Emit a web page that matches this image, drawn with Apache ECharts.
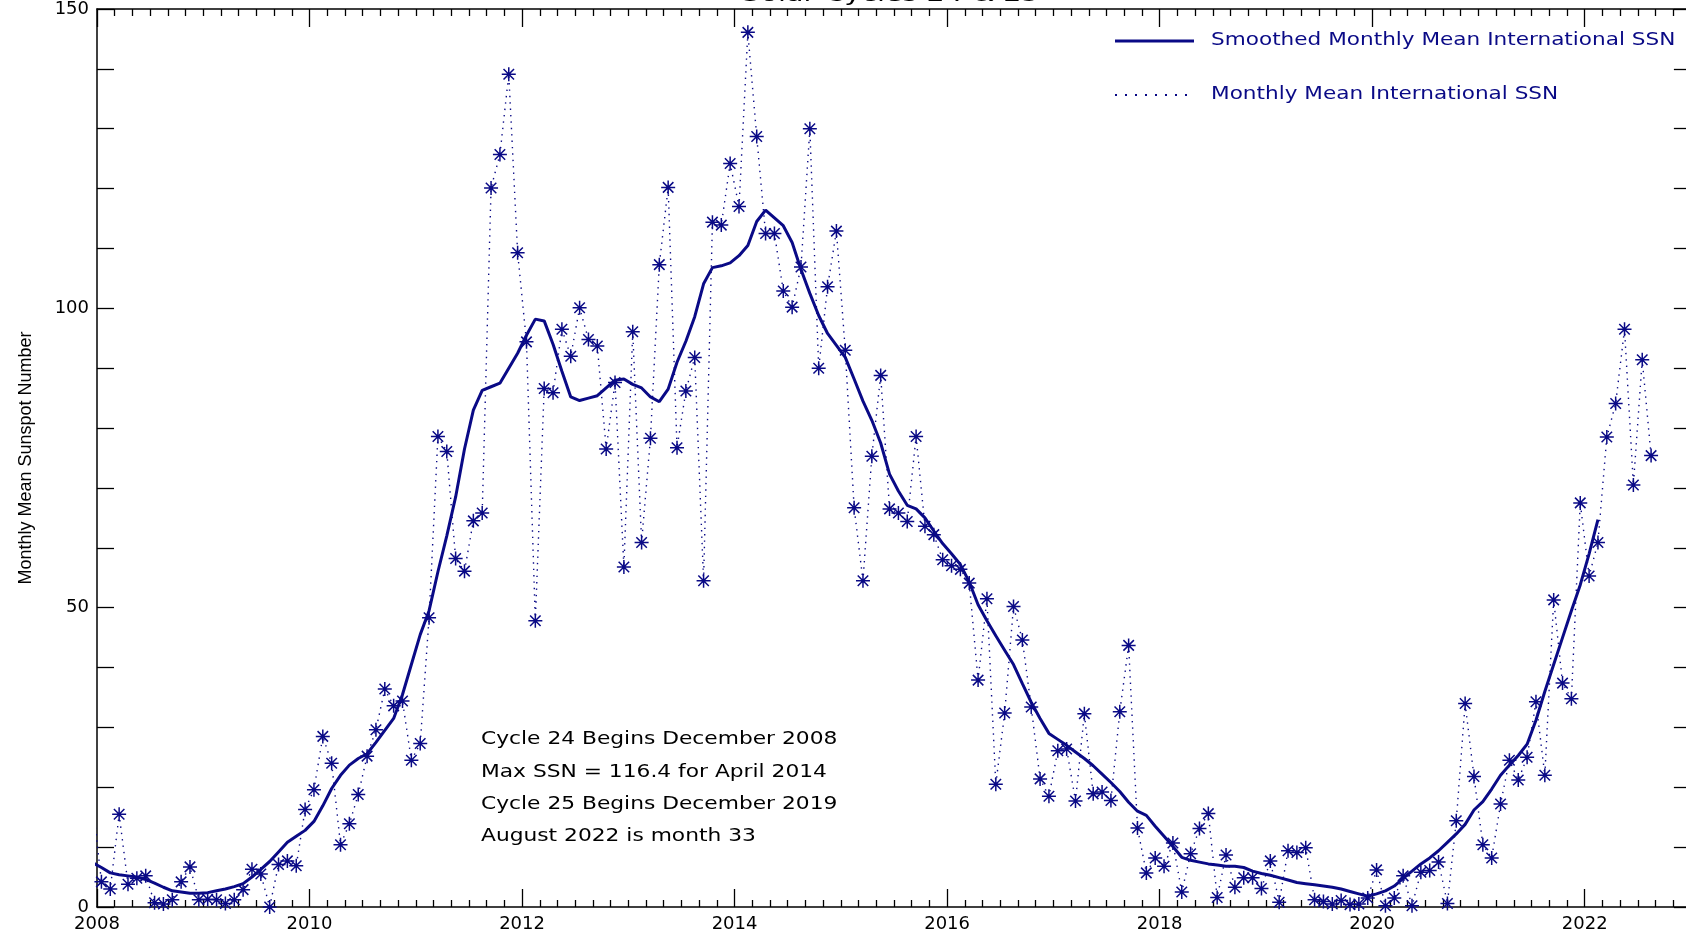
<!DOCTYPE html>
<html><head><meta charset="utf-8">
<script src="https://cdn.jsdelivr.net/npm/echarts@6/dist/echarts.min.js"></script>
<style>html,body{margin:0;padding:0;background:#fff}#c{width:1686px;height:931px}</style>
</head><body><div id="c"></div>
<script>
// first month of both series: December 2007 (points plotted at mid-month)
const startYear = 2007;
const startMonth = 12;

// Monthly mean international sunspot number, Dec 2007 .. Aug 2022
const monthlySSN = [
  17.5,
  4.2, 3.0, 15.5, 3.8, 4.8, 5.2, 0.7, 0.5, 1.2, 4.2, 6.7, 1.2,
  1.3, 1.2, 0.6, 1.2, 2.9, 6.3, 5.5, 0.0, 7.1, 7.7, 6.9, 16.3,
  19.6, 28.5, 24.0, 10.4, 13.9, 18.8, 25.2, 29.6, 36.4, 33.6, 34.4, 24.5,
  27.3, 48.3, 78.6, 76.1, 58.2, 56.1, 64.5, 65.8, 120.1, 125.7, 139.1, 109.3,
  94.4, 47.8, 86.6, 85.9, 96.5, 92.0, 100.1, 94.8, 93.7, 76.5, 87.6, 56.8,
  96.1, 60.9, 78.3, 107.3, 120.2, 76.7, 86.2, 91.8, 54.5, 114.4, 113.9, 124.2,
  117.0, 146.1, 128.7, 112.5, 112.5, 102.9, 100.2, 106.9, 130.0, 90.0, 103.6, 112.9,
  93.0, 66.7, 54.5, 75.3, 88.8, 66.5, 65.8, 64.4, 78.6, 63.6, 62.2, 58.0,
  57.0, 56.4, 54.1, 37.9, 51.5, 20.5, 32.4, 50.2, 44.6, 33.4, 21.4, 18.5,
  26.1, 26.4, 17.7, 32.3, 18.9, 19.2, 17.8, 32.6, 43.7, 13.2, 5.7, 8.2,
  6.8, 10.7, 2.5, 8.9, 13.1, 15.6, 1.6, 8.7, 3.3, 4.9, 4.9, 3.1,
  7.7, 0.8, 9.4, 9.1, 9.9, 1.2, 0.9, 0.5, 1.1, 0.4, 0.5, 1.5,
  6.2, 0.2, 1.5, 5.2, 0.2, 5.8, 6.1, 7.5, 0.6, 14.4, 34.0, 21.8,
  10.4, 8.2, 17.2, 24.5, 21.2, 25.0, 34.3, 22.0, 51.3, 37.4, 34.8, 67.5,
  55.3, 60.9, 78.5, 84.1, 96.5, 70.5, 91.4, 75.4
];

// 13-month smoothed monthly mean, Dec 2007 .. Feb 2022
const smoothedSSN = [
  7.4,
  6.6, 5.7, 5.4, 5.2, 5.0, 4.6, 4.0, 3.3, 2.7, 2.5, 2.3, 2.3,
  2.4, 2.7, 3.0, 3.4, 3.9, 5.0, 6.3, 7.6, 9.2, 10.8, 11.8, 12.8,
  14.3, 16.9, 19.8, 22.0, 23.7, 24.8, 25.6, 27.5, 29.5, 31.5, 35.5, 40.5,
  45.5, 49.5, 56.0, 62.0, 68.5, 76.5, 83.0, 86.3, 86.9, 87.5, 90.0, 92.5,
  95.5, 98.2, 97.9, 94.0, 89.5, 85.2, 84.6, 85.0, 85.4, 86.7, 88.0, 88.2,
  87.3, 86.7, 85.2, 84.4, 86.5, 91.0, 94.5, 98.6, 104.1, 106.8, 107.1, 107.6,
  108.8, 110.5, 114.5, 116.4, 115.1, 113.8, 111.0, 106.5, 102.5, 98.8, 95.8, 93.8,
  91.8, 88.2, 84.5, 81.3, 77.5, 72.3, 69.5, 67.1, 66.5, 65.0, 62.8, 60.7,
  59.0, 57.2, 54.3, 50.5, 47.8, 45.3, 42.9, 40.5, 37.3, 34.2, 31.5, 29.0,
  28.0, 27.0, 25.9, 24.8, 23.6, 22.2, 20.8, 19.3, 17.5, 16.0, 15.3, 13.5,
  11.8, 10.1, 8.3, 7.8, 7.5, 7.2, 7.0, 6.8, 6.8, 6.6, 6.0, 5.6,
  5.3, 4.9, 4.5, 4.1, 3.9, 3.7, 3.5, 3.3, 3.0, 2.6, 2.2, 1.8,
  2.2, 2.7, 3.5, 4.8, 6.0, 7.2, 8.2, 9.4, 10.8, 12.2, 13.8, 16.2,
  17.6, 19.7, 22.0, 23.7, 25.3, 27.2, 31.2, 36.0, 40.5, 45.0, 49.5, 53.8,
  59.0, 64.7
];

const xRange = [2008, 2024];
const xStep = 2;
const yRange = [0, 150];
const yStep = 10;
const yLabelStep = 50;

const titleText = 'Solar Cycles 24 & 25';
const yAxisTitle = 'Monthly Mean Sunspot Number';
const legendNames = ['Smoothed Monthly Mean International SSN', 'Monthly Mean International SSN'];
const notes = [
  'Cycle 24 Begins December 2008',
  'Max SSN = 116.4 for April 2014',
  'Cycle 25 Begins December 2019',
  'August 2022 is month 33'
];

const NAVY = '#0a0a86';
const FONT = '"DejaVu Sans", "Liberation Sans", sans-serif';

function toPoints(vals) {
  return vals.map((v, i) => [startYear + (startMonth - 1 + i + 0.5) / 12, v]);
}

const star = 'path://M0,-10L0,10M-10,0L10,0M-7.5,-7.5L7.5,7.5M-7.5,7.5L7.5,-7.5';

const tickStyle = { color: '#000', width: 1.3 };
function xAxisCfg(pos, labels) {
  return {
    type: 'value', position: pos, min: xRange[0], max: xRange[1], interval: xStep,
    axisLine: { show: true, onZero: false, lineStyle: { color: '#000', width: 1.5 } },
    axisTick: { show: true, inside: true, length: 18, lineStyle: tickStyle },
    minorTick: { show: true, splitNumber: 12, length: 7, lineStyle: tickStyle },
    splitLine: { show: false },
    axisLabel: {
      show: labels, color: '#000', fontFamily: FONT, fontSize: 18, margin: 8,
      showMaxLabel: false, formatter: v => String(v)
    }
  };
}
function yAxisCfg(pos, labels, extra) {
  return Object.assign({
    type: 'value', position: pos, min: yRange[0], max: yRange[1], interval: yStep,
    axisLine: { show: true, onZero: false, lineStyle: { color: '#000', width: 1.5 } },
    axisTick: { show: true, inside: true, length: 17, lineStyle: tickStyle },
    splitLine: { show: false },
    axisLabel: {
      show: labels, color: '#000', fontFamily: FONT, fontSize: 18, margin: 8,
      formatter: v => (v % yLabelStep === 0 ? String(v) : '')
    }
  }, extra || {});
}

const chart = echarts.init(document.getElementById('c'), null, { renderer: 'canvas' });

const graphics = [
  { type: 'text', x: 891, y: -5, scaleX: 1.3, z: 10,
    style: { text: titleText, fill: '#000', font: '22px ' + FONT, align: 'center', verticalAlign: 'middle' } },
  { type: 'line', shape: { x1: 1115, y1: 41, x2: 1194, y2: 41 }, style: { stroke: NAVY, lineWidth: 3 } },
  { type: 'line', shape: { x1: 1115, y1: 95, x2: 1194, y2: 95 }, style: { stroke: NAVY, lineWidth: 2, lineDash: [2, 8] } },
  { type: 'text', x: 1211, y: 41, scaleX: 1.27,
    style: { text: legendNames[0], fill: NAVY, font: '17px ' + FONT, align: 'left', verticalAlign: 'middle' } },
  { type: 'text', x: 1211, y: 95, scaleX: 1.27,
    style: { text: legendNames[1], fill: NAVY, font: '17px ' + FONT, align: 'left', verticalAlign: 'middle' } }
];
notes.forEach((t, i) => {
  graphics.push({ type: 'text', x: 481, y: 740 + i * 32.3, scaleX: 1.28,
    style: { text: t, fill: '#000', font: '17px ' + FONT, align: 'left', verticalAlign: 'middle' } });
});

chart.setOption({
  animation: false,
  backgroundColor: '#fff',
  grid: { left: 97, top: 9, height: 898, width: 1700.2, containLabel: false, outerBoundsMode: 'none' },
  xAxis: [xAxisCfg('bottom', true), xAxisCfg('top', false)],
  yAxis: [
    yAxisCfg('left', true, {
      name: yAxisTitle, nameLocation: 'middle', nameGap: 62, nameRotate: 90,
      nameTextStyle: { color: '#000', fontFamily: '"Liberation Sans", sans-serif', fontSize: 18 }
    }),
    yAxisCfg('right', false, { offset: -106.3 })
  ],
  series: [
    {
      name: legendNames[1], type: 'line', data: toPoints(monthlySSN),
      symbol: star, symbolSize: 14, showSymbol: true, showAllSymbol: true,
      lineStyle: { color: NAVY, width: 1.4, type: [1.4, 5] },
      itemStyle: { color: NAVY, borderColor: NAVY, borderWidth: 1.5 },
      z: 2
    },
    {
      name: legendNames[0], type: 'line', data: toPoints(smoothedSSN),
      showSymbol: false, symbol: 'none',
      lineStyle: { color: NAVY, width: 3 },
      z: 3
    }
  ],
  graphic: graphics
});
</script>
</body></html>
